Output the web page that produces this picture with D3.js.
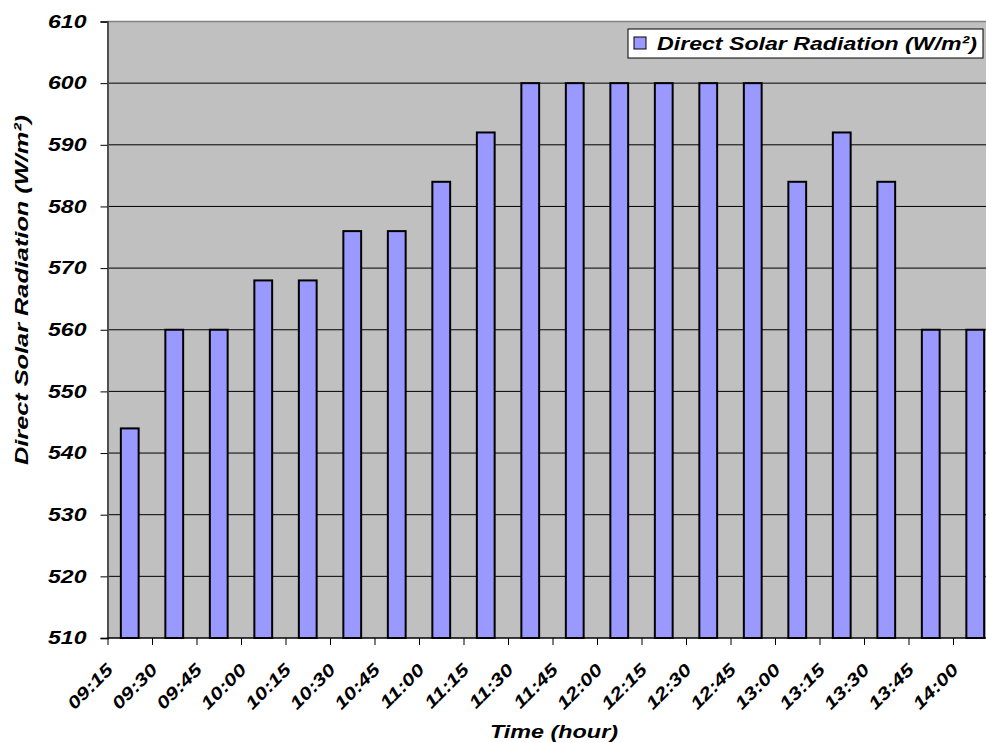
<!DOCTYPE html>
<html>
<head>
<meta charset="utf-8">
<script src="https://cdn.jsdelivr.net/npm/d3@7"></script>
<style>
  html, body { margin: 0; padding: 0; background: #ffffff; overflow: hidden; }
  svg { display: block; }
  text { font-family: "Liberation Sans", Arial, sans-serif; font-weight: bold; font-style: italic; fill: #000; }
</style>
</head>
<body>
<svg id="chart" width="986" height="743"></svg>
<script>
const categories = ["09:15","09:30","09:45","10:00","10:15","10:30","10:45","11:00","11:15","11:30",
                    "11:45","12:00","12:15","12:30","12:45","13:00","13:15","13:30","13:45","14:00"];
const radiation = [544,560,560,568,568,576,576,584,592,600,600,600,600,600,600,584,592,584,560,560];
const yTicks = [510,520,530,540,550,560,570,580,590,600,610];
const seriesName = "Direct Solar Radiation (W/m\u00B2)";
const xTitle = "Time (hour)";
const yTitle = "Direct Solar Radiation (W/m\u00B2)";

const svg = d3.select("#chart");
const pLeft = 107.5, pTop = 21.5, pBottom = 638, step = 44.5;
const pRight = pLeft + step * categories.length;

const x = d3.scaleBand().domain(categories).range([pLeft, pRight]).paddingInner(0.6).paddingOuter(0.3);
const xTick = d3.scalePoint().domain(categories).range([pLeft, pLeft + step * (categories.length - 1)]);
const y = d3.scaleLinear().domain([510, 610]).range([pBottom, pTop]);

function stretch(sel, factor) {
  sel.each(function () {
    const w = this.getComputedTextLength();
    d3.select(this).attr("textLength", w * factor).attr("lengthAdjust", "spacingAndGlyphs");
  });
}
function fitTo(sel, len) {
  sel.attr("textLength", len).attr("lengthAdjust", "spacingAndGlyphs");
}

// plot background
svg.append("rect").attr("x", pLeft).attr("y", pTop).attr("width", pRight - pLeft).attr("height", pBottom - pTop)
  .attr("fill", "#C0C0C0");

// gridlines
svg.append("g").selectAll("line").data(yTicks.slice(1, -1)).join("line")
  .attr("x1", pLeft).attr("x2", pRight).attr("y1", d => y(d)).attr("y2", d => y(d))
  .attr("stroke", "#000").attr("stroke-width", 1);
// top border
svg.append("line").attr("x1", pLeft).attr("x2", pRight).attr("y1", pTop).attr("y2", pTop)
  .attr("stroke", "#808080").attr("stroke-width", 1.5);

// bars
svg.append("g").selectAll("rect").data(radiation).join("rect")
  .attr("x", (d, i) => x(categories[i]))
  .attr("width", x.bandwidth())
  .attr("y", d => y(d))
  .attr("height", d => y(510) - y(d))
  .attr("fill", "#9999FF").attr("stroke", "#000").attr("stroke-width", 2);

// y axis
const yAxis = svg.append("g").attr("transform", `translate(${pLeft},0)`)
  .call(d3.axisLeft(y).tickValues(yTicks).tickSize(7).tickPadding(14).tickFormat(d3.format("d")));
yAxis.select(".domain").attr("stroke", "#505050").attr("stroke-width", 2);
yAxis.selectAll(".tick line").attr("stroke", "#000");
yAxis.selectAll(".tick text").attr("font-size", 18).attr("font-family", "Liberation Sans")
  .attr("font-weight", "bold").attr("font-style", "italic").attr("fill", "#000")
  .call(stretch, 1.28);

// x axis
const xAxis = svg.append("g").attr("transform", `translate(0,${pBottom})`)
  .call(d3.axisBottom(xTick).tickSize(7).tickSizeOuter(0));
xAxis.select(".domain").attr("d", `M${pLeft},0H${pRight}`).attr("stroke", "#000").attr("stroke-width", 1.5);
xAxis.selectAll(".tick line").attr("stroke", "#000");
xAxis.selectAll(".tick text")
  .attr("font-size", 17.5).attr("font-family", "Liberation Sans")
  .attr("font-weight", "bold").attr("font-style", "italic").attr("fill", "#000")
  .attr("text-anchor", "end").attr("dy", null).attr("y", 0)
  .attr("transform", "translate(6,33) rotate(-45)")
  .call(stretch, 1.25);

// axis titles
svg.append("text").attr("x", 554).attr("y", 738).attr("text-anchor", "middle")
  .attr("font-size", 19).text(xTitle).call(fitTo, 128);
svg.append("text").attr("transform", "translate(28,290) rotate(-90)").attr("text-anchor", "middle")
  .attr("font-size", 19).text(yTitle).call(fitTo, 350);

// legend
const lg = svg.append("g");
lg.append("rect").attr("x", 628).attr("y", 29).attr("width", 355).attr("height", 29)
  .attr("fill", "#fff").attr("stroke", "#000").attr("stroke-width", 1);
lg.append("rect").attr("x", 634).attr("y", 37).attr("width", 12).attr("height", 12)
  .attr("fill", "#9999FF").attr("stroke", "#000").attr("stroke-width", 1);
lg.append("text").attr("x", 657).attr("y", 50).attr("font-size", 19).text(seriesName).call(fitTo, 320);
</script>
</body>
</html>
